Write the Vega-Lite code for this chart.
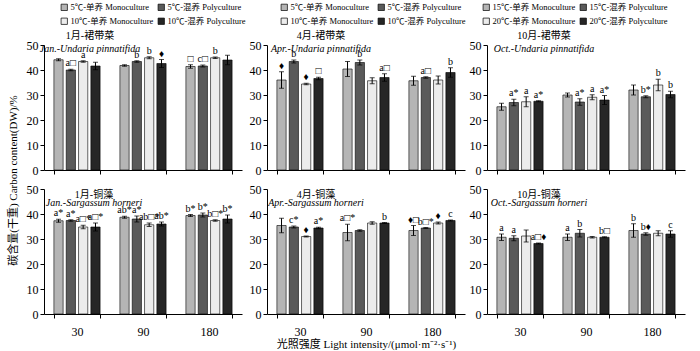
{
  "$schema": "https://vega.github.io/schema/vega-lite/v6.json",
  "background": "white",
  "padding": {"left": 7, "top": 3, "right": 5, "bottom": 3},
  "config": {
    "font": "Liberation Serif, Noto Sans CJK SC",
    "view": {"stroke": null},
    "axis": {"labelFont": "Liberation Serif, Noto Sans CJK SC", "titleFont": "Liberation Serif, Noto Sans CJK SC", "domainColor": "black", "tickColor": "black", "labelColor": "black", "titleColor": "black", "grid": false, "labelFontSize": 12, "titleFontSize": 11, "titleFontWeight": "normal", "tickSize": 4, "labelPadding": 2, "domainWidth": 1},
    "axisX": {"tickBand": "extent", "labelAngle": 0},
    "legend": {"labelFont": "Liberation Serif, Noto Sans CJK SC", "labelFontSize": 8.5, "labelColor": "black", "symbolType": "square", "symbolSize": 40, "symbolStrokeColor": "black", "symbolStrokeWidth": 0.7, "labelLimit": 200, "columnPadding": 2, "rowPadding": 4, "symbolOffset": 0, "labelOffset": 2, "padding": 0},
    "title": {"anchor": "middle", "frame": "group", "fontSize": 10, "fontWeight": "normal", "subtitleFontSize": 10, "subtitleFontStyle": "italic", "subtitlePadding": 0, "color": "black", "subtitleColor": "black", "font": "Liberation Serif, Noto Sans CJK SC", "subtitleFont": "Liberation Serif"}
  },
  "datasets": {
    "d": [
      {"p":"JU","l":"30","s":1,"v":44.1,"e":0.4,"hi":44.5,"t":""},
      {"p":"JU","l":"30","s":2,"v":40.0,"e":0.3,"hi":40.3,"t":"a□"},
      {"p":"JU","l":"30","s":3,"v":43.4,"e":0.3,"hi":43.7,"t":"a"},
      {"p":"JU","l":"30","s":4,"v":41.6,"e":1.5,"hi":43.1,"t":""},
      {"p":"JU","l":"90","s":1,"v":41.8,"e":0.3,"hi":42.1,"t":""},
      {"p":"JU","l":"90","s":2,"v":43.4,"e":0.3,"hi":43.7,"t":"b"},
      {"p":"JU","l":"90","s":3,"v":44.9,"e":0.4,"hi":45.3,"t":"b"},
      {"p":"JU","l":"90","s":4,"v":42.6,"e":1.6,"hi":44.2,"t":"♦"},
      {"p":"JU","l":"180","s":1,"v":41.4,"e":0.7,"hi":42.1,"t":"□"},
      {"p":"JU","l":"180","s":2,"v":41.6,"e":0.4,"hi":42.0,"t":"c□"},
      {"p":"JU","l":"180","s":3,"v":44.9,"e":0.3,"hi":45.2,"t":"b"},
      {"p":"JU","l":"180","s":4,"v":44.0,"e":1.9,"hi":45.9,"t":""},
      {"p":"AU","l":"30","s":1,"v":36.0,"e":3.3,"hi":39.3,"t":"♦"},
      {"p":"AU","l":"30","s":2,"v":43.4,"e":0.6,"hi":44.0,"t":"b"},
      {"p":"AU","l":"30","s":3,"v":34.4,"e":0.3,"hi":34.7,"t":"♦"},
      {"p":"AU","l":"30","s":4,"v":36.6,"e":0.5,"hi":37.1,"t":"□"},
      {"p":"AU","l":"90","s":1,"v":40.4,"e":3.0,"hi":43.4,"t":""},
      {"p":"AU","l":"90","s":2,"v":43.0,"e":1.0,"hi":44.0,"t":"b"},
      {"p":"AU","l":"90","s":3,"v":35.7,"e":1.2,"hi":36.9,"t":""},
      {"p":"AU","l":"90","s":4,"v":37.0,"e":1.5,"hi":38.5,"t":"a□"},
      {"p":"AU","l":"180","s":1,"v":35.7,"e":1.8,"hi":37.5,"t":""},
      {"p":"AU","l":"180","s":2,"v":37.0,"e":0.3,"hi":37.3,"t":"a□"},
      {"p":"AU","l":"180","s":3,"v":36.0,"e":1.6,"hi":37.6,"t":""},
      {"p":"AU","l":"180","s":4,"v":39.0,"e":1.9,"hi":40.9,"t":"b"},
      {"p":"OU","l":"30","s":1,"v":25.3,"e":1.4,"hi":26.7,"t":""},
      {"p":"OU","l":"30","s":2,"v":27.0,"e":1.3,"hi":28.3,"t":"a*"},
      {"p":"OU","l":"30","s":3,"v":27.3,"e":2.0,"hi":29.3,"t":"a"},
      {"p":"OU","l":"30","s":4,"v":27.5,"e":0.2,"hi":27.7,"t":"a*"},
      {"p":"OU","l":"90","s":1,"v":30.0,"e":0.8,"hi":30.8,"t":""},
      {"p":"OU","l":"90","s":2,"v":27.2,"e":1.3,"hi":28.5,"t":"a*"},
      {"p":"OU","l":"90","s":3,"v":29.1,"e":1.0,"hi":30.1,"t":"a"},
      {"p":"OU","l":"90","s":4,"v":28.0,"e":1.8,"hi":29.8,"t":"a*"},
      {"p":"OU","l":"180","s":1,"v":32.0,"e":2.0,"hi":34.0,"t":""},
      {"p":"OU","l":"180","s":2,"v":29.3,"e":0.4,"hi":29.7,"t":"b*"},
      {"p":"OU","l":"180","s":3,"v":34.0,"e":2.3,"hi":36.3,"t":"b"},
      {"p":"OU","l":"180","s":4,"v":30.2,"e":1.3,"hi":31.5,"t":"b"},
      {"p":"JS","l":"30","s":1,"v":37.3,"e":0.6,"hi":37.9,"t":"a*"},
      {"p":"JS","l":"30","s":2,"v":37.4,"e":0.3,"hi":37.7,"t":"a*"},
      {"p":"JS","l":"30","s":3,"v":34.8,"e":0.7,"hi":35.5,"t":"a□*"},
      {"p":"JS","l":"30","s":4,"v":34.8,"e":1.6,"hi":36.4,"t":"a□*"},
      {"p":"JS","l":"90","s":1,"v":38.7,"e":0.4,"hi":39.1,"t":"ab*"},
      {"p":"JS","l":"90","s":2,"v":38.0,"e":1.2,"hi":39.2,"t":"a*"},
      {"p":"JS","l":"90","s":3,"v":35.7,"e":0.7,"hi":36.4,"t":"ab□*"},
      {"p":"JS","l":"90","s":4,"v":36.0,"e":0.8,"hi":36.8,"t":"ab*"},
      {"p":"JS","l":"180","s":1,"v":39.4,"e":0.4,"hi":39.8,"t":"b*"},
      {"p":"JS","l":"180","s":2,"v":39.6,"e":0.8,"hi":40.4,"t":"b*"},
      {"p":"JS","l":"180","s":3,"v":37.4,"e":0.3,"hi":37.7,"t":"b□*"},
      {"p":"JS","l":"180","s":4,"v":38.0,"e":1.6,"hi":39.6,"t":"b*"},
      {"p":"AS","l":"30","s":1,"v":35.4,"e":2.9,"hi":38.3,"t":""},
      {"p":"AS","l":"30","s":2,"v":34.8,"e":0.4,"hi":35.2,"t":"c*"},
      {"p":"AS","l":"30","s":3,"v":31.0,"e":0.2,"hi":31.2,"t":"♦"},
      {"p":"AS","l":"30","s":4,"v":34.4,"e":0.3,"hi":34.7,"t":"a*"},
      {"p":"AS","l":"90","s":1,"v":32.6,"e":3.3,"hi":35.9,"t":"a□*"},
      {"p":"AS","l":"90","s":2,"v":33.4,"e":0.3,"hi":33.7,"t":""},
      {"p":"AS","l":"90","s":3,"v":36.4,"e":0.5,"hi":36.9,"t":""},
      {"p":"AS","l":"90","s":4,"v":36.4,"e":0.2,"hi":36.6,"t":"b"},
      {"p":"AS","l":"180","s":1,"v":33.4,"e":2.0,"hi":35.4,"t":"♦□"},
      {"p":"AS","l":"180","s":2,"v":34.4,"e":0.2,"hi":34.6,"t":"b□*"},
      {"p":"AS","l":"180","s":3,"v":36.4,"e":0.4,"hi":36.8,"t":"♦"},
      {"p":"AS","l":"180","s":4,"v":37.4,"e":0.2,"hi":37.6,"t":"c"},
      {"p":"OS","l":"30","s":1,"v":30.7,"e":1.3,"hi":32.0,"t":"a"},
      {"p":"OS","l":"30","s":2,"v":30.3,"e":1.0,"hi":31.3,"t":"a"},
      {"p":"OS","l":"30","s":3,"v":31.2,"e":2.4,"hi":33.6,"t":""},
      {"p":"OS","l":"30","s":4,"v":28.2,"e":0.2,"hi":28.4,"t":"a□♦"},
      {"p":"OS","l":"90","s":1,"v":30.7,"e":1.3,"hi":32.0,"t":"a"},
      {"p":"OS","l":"90","s":2,"v":32.3,"e":1.5,"hi":33.8,"t":"b"},
      {"p":"OS","l":"90","s":3,"v":30.7,"e":0.3,"hi":31.0,"t":""},
      {"p":"OS","l":"90","s":4,"v":30.7,"e":0.2,"hi":30.9,"t":"b□"},
      {"p":"OS","l":"180","s":1,"v":33.4,"e":2.7,"hi":36.1,"t":"b"},
      {"p":"OS","l":"180","s":2,"v":32.0,"e":0.5,"hi":32.5,"t":"b♦"},
      {"p":"OS","l":"180","s":3,"v":32.3,"e":1.0,"hi":33.3,"t":""},
      {"p":"OS","l":"180","s":4,"v":32.0,"e":1.3,"hi":33.3,"t":"c"}
    ]
  },
  "data": {"name": "d"},
  "spacing": 3,
  "resolve": {"scale": {"color": "independent"}, "legend": {"color": "independent"}},
  "hconcat": [
    {
      "bounds": "flush",
      "spacing": 19,
      "vconcat": [
        {
          "width": 198, "height": 125,
          "title": {"text": "1月-裙带菜", "subtitle": "Jan.-Undaria pinnatifida", "offset": -15, "dx": -53},
          "transform": [{"filter": {"field": "p", "equal": "JU"}}],
          "encoding": {
            "x": {"field": "l", "type": "nominal", "sort": ["30","90","180"], "scale": {"paddingInner": 0.3, "paddingOuter": 0.15}, "axis": {"labels": false, "title": null}},
            "xOffset": {"field": "s", "type": "nominal", "scale": {"paddingInner": 0.25}},
            "y": {"field": "v", "type": "quantitative", "scale": {"domain": [0, 50], "nice": false}, "axis": {"values": [0,10,20,30,40,50], "title": "碳含量(干重) Carbon content(DW)/%", "titleY": 135, "titlePadding": 8}}
          },
          "layer": [
            {"mark": {"type": "bar", "stroke": "black", "strokeWidth": 0.6}, "encoding": {"color": {"field": "s", "type": "nominal", "scale": {"domain": [1,2,3,4], "range": ["#b5b5b5","#5a5a5a","#ececec","#262626"]}, "legend": {"title": null, "orient": "none", "legendX": 16, "legendY": -42, "direction": "horizontal", "columns": 2, "labelExpr": "['5℃-单养 Monoculture','5℃-混养 Polyculture','10℃-单养 Monoculture','10℃-混养 Polyculture'][datum.value-1]"}}}},
            {"transform": [{"filter": "datum.e > 0"}], "mark": {"type": "errorbar", "ticks": {"size": 5, "color": "black"}, "color": "black"}, "encoding": {"y": {"field": "v", "type": "quantitative"}, "yError": {"field": "e"}}},
            {"mark": {"type": "text", "baseline": "bottom", "dy": -1, "fontSize": 10, "color": "black"}, "encoding": {"y": {"field": "hi", "type": "quantitative"}, "text": {"field": "t"}}}
          ]
        },
        {
          "width": 198, "height": 125,
          "title": {"text": "1月-铜藻", "subtitle": "Jan.-Sargassum horneri", "offset": -25, "dx": -49, "subtitlePadding": -2},
          "transform": [{"filter": {"field": "p", "equal": "JS"}}],
          "encoding": {
            "x": {"field": "l", "type": "nominal", "sort": ["30","90","180"], "scale": {"paddingInner": 0.3, "paddingOuter": 0.15}, "axis": {"title": null, "labelPadding": 8}},
            "xOffset": {"field": "s", "type": "nominal", "scale": {"paddingInner": 0.25}},
            "y": {"field": "v", "type": "quantitative", "scale": {"domain": [0, 50], "nice": false}, "axis": {"values": [0,10,20,30,40,50], "title": null}}
          },
          "layer": [
            {"mark": {"type": "bar", "stroke": "black", "strokeWidth": 0.6}, "encoding": {"color": {"field": "s", "type": "nominal", "scale": {"domain": [1,2,3,4], "range": ["#b5b5b5","#5a5a5a","#ececec","#262626"]}, "legend": {"title": null, "orient": "none", "legendX": 16, "legendY": -42, "direction": "horizontal", "columns": 2, "labelExpr": "['5℃-单养 Monoculture','5℃-混养 Polyculture','10℃-单养 Monoculture','10℃-混养 Polyculture'][datum.value-1]"}}}},
            {"transform": [{"filter": "datum.e > 0"}], "mark": {"type": "errorbar", "ticks": {"size": 5, "color": "black"}, "color": "black"}, "encoding": {"y": {"field": "v", "type": "quantitative"}, "yError": {"field": "e"}}},
            {"mark": {"type": "text", "baseline": "bottom", "dy": -1, "fontSize": 10, "color": "black"}, "encoding": {"y": {"field": "hi", "type": "quantitative"}, "text": {"field": "t"}}}
          ]
        }
      ]
    },
    {
      "bounds": "flush",
      "spacing": 19,
      "vconcat": [
        {
          "width": 198, "height": 125,
          "title": {"text": "4月-裙带菜", "subtitle": "Apr.-Undaria pinnatifida", "offset": -15, "dx": -45},
          "transform": [{"filter": {"field": "p", "equal": "AU"}}],
          "encoding": {
            "x": {"field": "l", "type": "nominal", "sort": ["30","90","180"], "scale": {"paddingInner": 0.3, "paddingOuter": 0.15}, "axis": {"labels": false, "title": null}},
            "xOffset": {"field": "s", "type": "nominal", "scale": {"paddingInner": 0.25}},
            "y": {"field": "v", "type": "quantitative", "scale": {"domain": [0, 50], "nice": false}, "axis": {"values": [0,10,20,30,40,50], "title": null}}
          },
          "layer": [
            {"mark": {"type": "bar", "stroke": "black", "strokeWidth": 0.6}, "encoding": {"color": {"field": "s", "type": "nominal", "scale": {"domain": [1,2,3,4], "range": ["#b5b5b5","#5a5a5a","#ececec","#262626"]}, "legend": {"title": null, "orient": "none", "legendX": 13, "legendY": -42, "direction": "horizontal", "columns": 2, "labelExpr": "['5℃-单养 Monoculture','5℃-混养 Polyculture','10℃-单养 Monoculture','10℃-混养 Polyculture'][datum.value-1]"}}}},
            {"transform": [{"filter": "datum.e > 0"}], "mark": {"type": "errorbar", "ticks": {"size": 5, "color": "black"}, "color": "black"}, "encoding": {"y": {"field": "v", "type": "quantitative"}, "yError": {"field": "e"}}},
            {"mark": {"type": "text", "baseline": "bottom", "dy": -1, "fontSize": 10, "color": "black"}, "encoding": {"y": {"field": "hi", "type": "quantitative"}, "text": {"field": "t"}}}
          ]
        },
        {
          "width": 198, "height": 125,
          "title": {"text": "4月-铜藻", "subtitle": "Apr.-Sargassum horneri", "offset": -25, "dx": -50, "subtitlePadding": -2},
          "transform": [{"filter": {"field": "p", "equal": "AS"}}],
          "encoding": {
            "x": {"field": "l", "type": "nominal", "sort": ["30","90","180"], "scale": {"paddingInner": 0.3, "paddingOuter": 0.15}, "axis": {"title": "光照强度 Light intensity/(μmol·m⁻²·s⁻¹)", "titlePadding": 1, "labelPadding": 8}},
            "xOffset": {"field": "s", "type": "nominal", "scale": {"paddingInner": 0.25}},
            "y": {"field": "v", "type": "quantitative", "scale": {"domain": [0, 50], "nice": false}, "axis": {"values": [0,10,20,30,40,50], "title": null}}
          },
          "layer": [
            {"mark": {"type": "bar", "stroke": "black", "strokeWidth": 0.6}, "encoding": {"color": {"field": "s", "type": "nominal", "scale": {"domain": [1,2,3,4], "range": ["#b5b5b5","#5a5a5a","#ececec","#262626"]}, "legend": {"title": null, "orient": "none", "legendX": 13, "legendY": -42, "direction": "horizontal", "columns": 2, "labelExpr": "['5℃-单养 Monoculture','5℃-混养 Polyculture','10℃-单养 Monoculture','10℃-混养 Polyculture'][datum.value-1]"}}}},
            {"transform": [{"filter": "datum.e > 0"}], "mark": {"type": "errorbar", "ticks": {"size": 5, "color": "black"}, "color": "black"}, "encoding": {"y": {"field": "v", "type": "quantitative"}, "yError": {"field": "e"}}},
            {"mark": {"type": "text", "baseline": "bottom", "dy": -1, "fontSize": 10, "color": "black"}, "encoding": {"y": {"field": "hi", "type": "quantitative"}, "text": {"field": "t"}}}
          ]
        }
      ]
    },
    {
      "bounds": "flush",
      "spacing": 19,
      "vconcat": [
        {
          "width": 198, "height": 125,
          "title": {"text": "10月-裙带菜", "subtitle": "Oct.-Undaria pinnatifida", "offset": -15, "dx": -42},
          "transform": [{"filter": {"field": "p", "equal": "OU"}}],
          "encoding": {
            "x": {"field": "l", "type": "nominal", "sort": ["30","90","180"], "scale": {"paddingInner": 0.3, "paddingOuter": 0.15}, "axis": {"labels": false, "title": null}},
            "xOffset": {"field": "s", "type": "nominal", "scale": {"paddingInner": 0.25}},
            "y": {"field": "v", "type": "quantitative", "scale": {"domain": [0, 50], "nice": false}, "axis": {"values": [0,10,20,30,40,50], "title": null}}
          },
          "layer": [
            {"mark": {"type": "bar", "stroke": "black", "strokeWidth": 0.6}, "encoding": {"color": {"field": "s", "type": "nominal", "scale": {"domain": [1,2,3,4], "range": ["#b5b5b5","#5a5a5a","#ececec","#262626"]}, "legend": {"title": null, "orient": "none", "legendX": -5, "legendY": -42, "direction": "horizontal", "columns": 2, "labelExpr": "['15℃-单养 Monoculture','15℃-混养 Polyculture','20℃-单养 Monoculture','20℃-混养 Polyculture'][datum.value-1]"}}}},
            {"transform": [{"filter": "datum.e > 0"}], "mark": {"type": "errorbar", "ticks": {"size": 5, "color": "black"}, "color": "black"}, "encoding": {"y": {"field": "v", "type": "quantitative"}, "yError": {"field": "e"}}},
            {"mark": {"type": "text", "baseline": "bottom", "dy": -1, "fontSize": 10, "color": "black"}, "encoding": {"y": {"field": "hi", "type": "quantitative"}, "text": {"field": "t"}}}
          ]
        },
        {
          "width": 198, "height": 125,
          "title": {"text": "10月-铜藻", "subtitle": "Oct.-Sargassum horneri", "offset": -25, "dx": -47, "subtitlePadding": -2},
          "transform": [{"filter": {"field": "p", "equal": "OS"}}],
          "encoding": {
            "x": {"field": "l", "type": "nominal", "sort": ["30","90","180"], "scale": {"paddingInner": 0.3, "paddingOuter": 0.15}, "axis": {"title": null, "labelPadding": 8}},
            "xOffset": {"field": "s", "type": "nominal", "scale": {"paddingInner": 0.25}},
            "y": {"field": "v", "type": "quantitative", "scale": {"domain": [0, 50], "nice": false}, "axis": {"values": [0,10,20,30,40,50], "title": null}}
          },
          "layer": [
            {"mark": {"type": "bar", "stroke": "black", "strokeWidth": 0.6}, "encoding": {"color": {"field": "s", "type": "nominal", "scale": {"domain": [1,2,3,4], "range": ["#b5b5b5","#5a5a5a","#ececec","#262626"]}, "legend": {"title": null, "orient": "none", "legendX": -5, "legendY": -42, "direction": "horizontal", "columns": 2, "labelExpr": "['15℃-单养 Monoculture','15℃-混养 Polyculture','20℃-单养 Monoculture','20℃-混养 Polyculture'][datum.value-1]"}}}},
            {"transform": [{"filter": "datum.e > 0"}], "mark": {"type": "errorbar", "ticks": {"size": 5, "color": "black"}, "color": "black"}, "encoding": {"y": {"field": "v", "type": "quantitative"}, "yError": {"field": "e"}}},
            {"mark": {"type": "text", "baseline": "bottom", "dy": -1, "fontSize": 10, "color": "black"}, "encoding": {"y": {"field": "hi", "type": "quantitative"}, "text": {"field": "t"}}}
          ]
        }
      ]
    }
  ]
}
